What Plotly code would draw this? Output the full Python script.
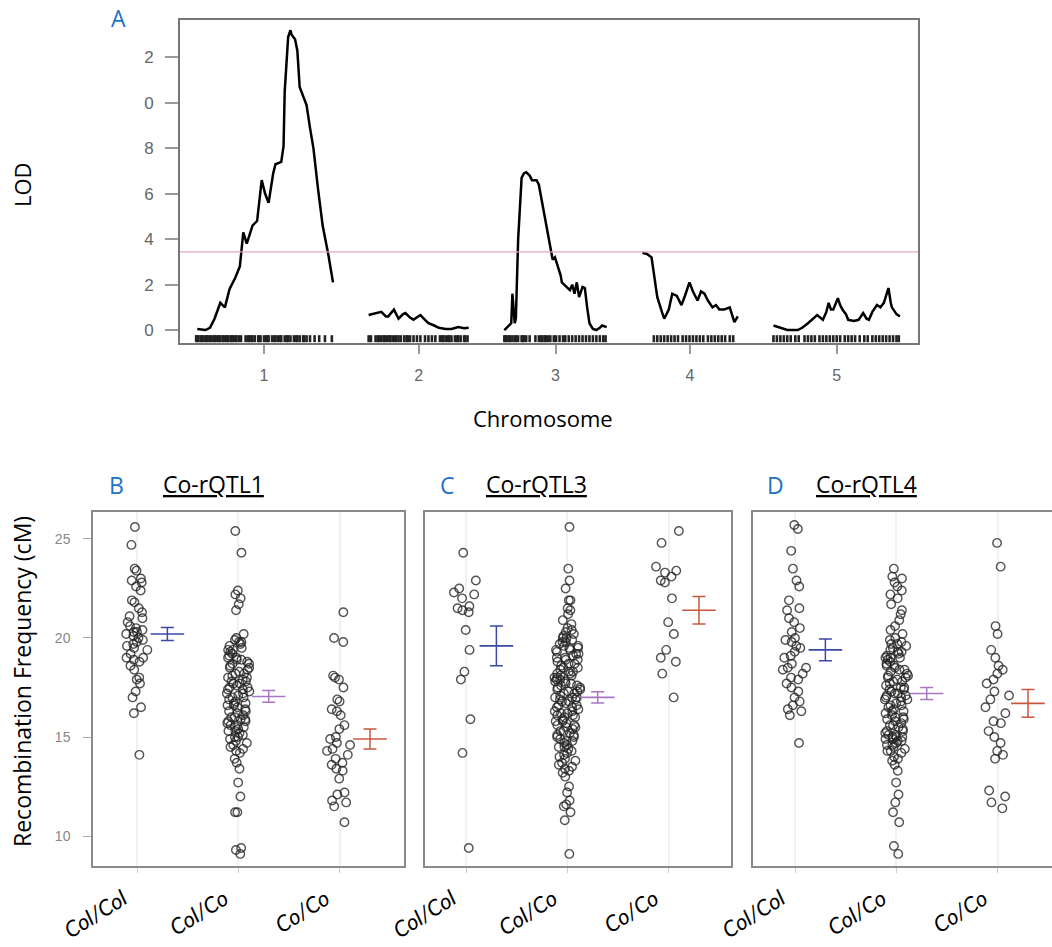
import plotly.graph_objects as go

# ---------------- Panel A data: LOD scan ----------------
chrom_names = ["1", "2", "3", "4", "5"]
chrom_len = [120, 87, 89, 83, 110]   # cM
chrom_gap = 31                        # cM between chromosomes in the plot
lod_threshold = 3.44

chr1_pos = [2, 9, 13, 17, 22, 26, 30, 35, 39, 42, 45, 48, 50, 54, 58, 61, 64, 68, 70, 75, 77, 78, 81, 83, 84, 87, 89, 91, 94, 97, 100, 103, 107, 111, 116, 120]
chr1_lod = [0.05, 0.0, 0.1, 0.5, 1.2, 1.0, 1.8, 2.3, 2.8, 4.3, 3.8, 4.3, 4.6, 4.8, 6.6, 6.0, 5.6, 6.9, 7.3, 7.4, 8.1, 10.5, 12.9, 13.2, 13.0, 12.8, 12.3, 10.7, 10.3, 9.9, 8.9, 8.0, 6.2, 4.6, 3.3, 2.1]

chr2_pos = [0, 6, 11, 15, 17, 22, 26, 30, 32, 36, 39, 43, 45, 49, 52, 57, 61, 67, 72, 78, 83, 87]
chr2_lod = [0.66, 0.75, 0.8, 0.6, 0.6, 0.9, 0.5, 0.7, 0.75, 0.55, 0.45, 0.6, 0.66, 0.45, 0.3, 0.2, 0.1, 0.05, 0.05, 0.13, 0.08, 0.1]

chr3_pos = [0, 4, 6, 7, 9, 10, 12, 15, 17, 19, 22, 24, 28, 30, 33, 37, 39, 42, 44, 46, 49, 50, 54, 57, 59, 61, 63, 65, 68, 70, 72, 74, 77, 80, 83, 85, 89]
chr3_lod = [0.0, 0.2, 0.3, 1.6, 0.3, 0.5, 4.0, 6.7, 6.9, 6.95, 6.8, 6.6, 6.6, 6.4, 5.6, 4.4, 4.0, 3.1, 3.2, 2.9, 2.4, 2.1, 1.9, 1.76, 2.0, 1.6, 2.1, 1.45, 1.9, 1.85, 1.0, 0.3, 0.05, 0.0, 0.1, 0.2, 0.13]

chr4_pos = [0, 4, 8, 10, 13, 17, 19, 23, 26, 30, 34, 37, 41, 44, 48, 51, 54, 57, 61, 64, 67, 71, 76, 80, 83]
chr4_lod = [3.4, 3.35, 3.2, 2.4, 1.45, 0.8, 0.5, 0.9, 1.6, 1.5, 1.1, 1.5, 2.1, 1.7, 1.3, 1.7, 1.6, 1.3, 1.0, 1.1, 0.9, 0.9, 1.0, 0.35, 0.6]

chr5_pos = [0, 6, 12, 21, 25, 30, 34, 38, 43, 46, 48, 50, 52, 56, 58, 60, 63, 65, 70, 74, 78, 81, 83, 86, 90, 93, 96, 98, 100, 102, 103, 107, 110]
chr5_lod = [0.2, 0.1, 0.0, 0.0, 0.1, 0.3, 0.5, 0.66, 0.45, 0.8, 1.2, 0.9, 0.9, 1.4, 1.1, 0.9, 0.7, 0.45, 0.4, 0.45, 0.75, 0.5, 0.45, 0.8, 1.1, 1.0, 1.2, 1.5, 1.85, 1.2, 1.0, 0.7, 0.6]

# genetic marker positions (rug) per chromosome, cM
chr1_markers = [1, 2, 3, 5, 6, 7, 9, 10, 11, 13, 14, 16, 17, 18, 20, 21, 22, 24, 25, 27, 28, 29, 31, 32, 33, 35, 36, 38, 40, 44, 46, 47, 49, 50, 52, 55, 56, 57, 60, 62, 63, 64, 67, 69, 70, 72, 74, 75, 78, 80, 81, 83, 86, 88, 89, 91, 94, 95, 97, 100, 104, 108, 113, 119]
chr2_markers = [0, 2, 6, 8, 9, 11, 13, 14, 16, 18, 19, 21, 23, 24, 26, 28, 31, 33, 34, 36, 39, 42, 45, 49, 52, 55, 58, 62, 64, 65, 67, 69, 70, 72, 75, 77, 78, 80, 83, 84, 86]
chr3_markers = [0, 1, 2, 4, 5, 7, 9, 10, 12, 15, 16, 17, 19, 22, 27, 30, 32, 33, 35, 36, 38, 40, 43, 45, 48, 51, 53, 56, 59, 62, 65, 68, 71, 74, 77, 80, 83, 86, 88]
chr4_markers = [10, 13, 16, 19, 22, 25, 28, 31, 35, 38, 41, 44, 47, 50, 53, 57, 60, 63, 66, 69, 72, 76, 79]
chr5_markers = [0, 3, 6, 9, 12, 15, 19, 22, 27, 30, 33, 36, 40, 43, 46, 49, 52, 55, 58, 62, 65, 68, 71, 75, 79, 82, 86, 89, 92, 95, 98, 101, 104, 107, 109]

lod_tickvals = [0, 2, 4, 6, 8, 10, 12]
lod_ticktext = ["0", "2", "4", "6", "8", "0", "2"]   # as printed (leading digits cut)

# ---------------- Panels B-D data: recombination frequency ----------------
genotypes = ["Col/Col", "Col/Co", "Co/Co"]

B_colcol = [25.6, 24.7, 23.5, 23.4, 23.0, 22.9, 22.8, 22.4, 21.9, 21.8, 21.5, 21.3, 21.1, 20.8, 20.6, 20.5, 20.4, 20.3, 20.3, 20.1, 20.0, 19.9, 19.8, 19.7, 19.5, 19.4, 19.2, 19.0, 19.0, 18.8, 18.6, 18.4, 18.0, 17.9, 17.7, 17.3, 17.0, 16.5, 16.2, 14.1, 21.0, 20.2, 19.6, 18.9, 22.6]
B_colco = [25.4, 24.3, 22.4, 22.2, 22.0, 21.7, 21.4, 20.2, 20.0, 19.9, 19.8, 19.8, 19.7, 19.6, 19.5, 19.4, 19.4, 19.2, 19.1, 19.0, 19.0, 18.9, 18.8, 18.7, 18.7, 18.5, 18.5, 18.4, 18.3, 18.2, 18.2, 18.1, 18.0, 18.0, 17.9, 17.8, 17.7, 17.7, 17.6, 17.5, 17.5, 17.4, 17.3, 17.2, 17.2, 17.1, 17.0, 17.0, 16.9, 16.8, 16.7, 16.7, 16.6, 16.5, 16.4, 16.3, 16.3, 16.2, 16.1, 16.0, 16.0, 15.9, 15.8, 15.8, 15.7, 15.6, 15.5, 15.5, 15.4, 15.3, 15.3, 15.2, 15.1, 15.0, 15.0, 14.9, 14.8, 14.7, 14.6, 14.4, 14.3, 14.2, 13.9, 13.7, 13.4, 12.7, 12.0, 11.2, 11.2, 9.4, 9.1, 9.3, 19.3, 18.6, 17.4, 16.6, 15.9, 15.6, 14.5, 18.9, 17.8]
B_coco = [21.3, 20.0, 19.8, 18.1, 18.0, 17.5, 16.8, 16.4, 16.3, 16.1, 15.4, 15.0, 14.7, 14.6, 14.3, 14.1, 13.9, 13.7, 13.4, 13.3, 12.2, 12.1, 11.8, 11.7, 11.5, 10.7, 17.9, 16.9, 15.6, 14.9, 14.4, 13.6, 12.9]

C_colcol = [24.3, 22.9, 22.5, 22.3, 22.2, 21.6, 21.5, 21.4, 21.3, 20.4, 19.4, 18.3, 17.9, 15.9, 14.2, 9.4, 22.0]
C_colco = [25.6, 23.5, 22.9, 22.5, 21.9, 21.9, 21.5, 21.4, 21.2, 20.9, 20.7, 20.5, 20.4, 20.3, 20.2, 20.1, 20.0, 20.0, 19.9, 19.8, 19.8, 19.7, 19.6, 19.6, 19.5, 19.4, 19.4, 19.3, 19.2, 19.2, 19.1, 19.0, 19.0, 18.9, 18.9, 18.8, 18.7, 18.7, 18.6, 18.5, 18.5, 18.4, 18.3, 18.3, 18.2, 18.1, 18.1, 18.0, 18.0, 17.9, 17.9, 17.8, 17.8, 17.7, 17.7, 17.6, 17.6, 17.5, 17.5, 17.4, 17.3, 17.3, 17.2, 17.2, 17.1, 17.0, 17.0, 16.9, 16.9, 16.8, 16.8, 16.7, 16.6, 16.6, 16.5, 16.5, 16.4, 16.3, 16.3, 16.2, 16.1, 16.1, 16.0, 16.0, 15.9, 15.8, 15.8, 15.7, 15.6, 15.6, 15.5, 15.5, 15.4, 15.3, 15.3, 15.2, 15.1, 15.0, 15.0, 14.9, 14.8, 14.8, 14.7, 14.6, 14.5, 14.5, 14.4, 14.3, 14.2, 14.1, 14.0, 13.9, 13.8, 13.7, 13.6, 13.5, 13.4, 13.3, 13.2, 13.0, 12.5, 12.2, 11.8, 11.6, 11.5, 11.2, 10.8, 9.1, 17.4, 18.2, 16.2, 15.1, 19.5, 17.0]
C_coco = [25.4, 24.8, 23.6, 23.4, 23.1, 22.9, 22.8, 22.0, 20.8, 20.2, 19.4, 19.0, 18.8, 18.2, 17.0, 23.3]

D_colcol = [25.7, 25.5, 24.4, 23.5, 22.9, 22.6, 21.9, 21.5, 21.4, 20.5, 20.0, 19.8, 19.6, 19.5, 19.3, 19.0, 18.7, 18.5, 18.5, 18.4, 18.0, 17.9, 17.7, 17.3, 17.0, 16.8, 16.4, 16.1, 14.7, 20.3, 19.9, 19.1, 18.2, 17.5, 16.6, 16.3, 20.8, 21.0]
D_colco = [23.5, 23.1, 22.8, 22.6, 22.2, 22.0, 21.7, 21.4, 20.9, 20.4, 20.0, 19.9, 19.8, 19.7, 19.6, 19.5, 19.4, 19.3, 19.2, 19.1, 19.0, 19.0, 18.9, 18.8, 18.7, 18.6, 18.5, 18.4, 18.3, 18.2, 18.1, 18.0, 18.0, 17.9, 17.8, 17.7, 17.6, 17.5, 17.4, 17.4, 17.3, 17.2, 17.1, 17.0, 17.0, 16.9, 16.8, 16.7, 16.6, 16.5, 16.4, 16.3, 16.2, 16.1, 16.0, 15.9, 15.8, 15.7, 15.6, 15.5, 15.4, 15.3, 15.2, 15.1, 15.0, 15.0, 14.9, 14.8, 14.7, 14.6, 14.5, 14.4, 14.3, 14.2, 14.0, 13.8, 13.6, 13.3, 12.7, 12.1, 11.7, 11.2, 10.7, 9.5, 9.1, 23.0, 22.4, 21.2, 20.6, 20.2, 19.7, 19.3, 18.6, 18.4, 17.8, 17.5, 17.2, 16.9, 16.6, 16.3, 15.9, 15.6, 15.3, 15.1, 14.9, 14.6, 14.3, 13.9, 19.0, 18.1, 17.1, 16.0, 15.0, 14.8]
D_coco = [24.8, 23.6, 20.6, 20.2, 19.4, 19.0, 18.4, 18.2, 17.9, 17.7, 17.3, 16.9, 16.2, 15.8, 15.7, 15.0, 14.7, 14.3, 13.9, 12.3, 12.0, 11.7, 11.4, 18.6, 17.1, 16.5, 15.3, 14.1]

B_mean = [20.2, 17.05, 14.9]
B_se = [0.33, 0.3, 0.5]
C_mean = [19.6, 17.0, 21.4]
C_se = [1.0, 0.28, 0.7]
D_mean = [19.4, 17.2, 16.7]
D_se = [0.55, 0.3, 0.7]

panel_titles = ["Co-rQTL1", "Co-rQTL3", "Co-rQTL4"]
panel_letters = ["A", "B", "C", "D"]

# ---------------- styles ----------------
LABEL_FONT = "'Open Sans', Lato, sans-serif"
TICKCAT_FONT = "Lato, 'Open Sans', sans-serif"
TICK_FONT = "'Liberation Sans', Arial, sans-serif"
BLUE_LETTER = "#1f72c4"
mean_colors = ["#3a48a6", "#a877c4", "#c9573f"]
FRAME = "#8a8a8a"

fig = go.Figure()

# ---- Panel A ----
chroms = [(chr1_pos, chr1_lod, chr1_markers), (chr2_pos, chr2_lod, chr2_markers),
          (chr3_pos, chr3_lod, chr3_markers), (chr4_pos, chr4_lod, chr4_markers),
          (chr5_pos, chr5_lod, chr5_markers)]
offsets = []
acc = 0
for L in chrom_len:
    offsets.append(acc)
    acc += L + chrom_gap
mids = [o + L / 2 for o, L in zip(offsets, chrom_len)]

for (pos, lod, mk), off in zip(chroms, offsets):
    fig.add_trace(go.Scatter(x=[p + off for p in pos], y=lod, mode="lines",
                             line=dict(color="black", width=2.5), xaxis="x", yaxis="y",
                             showlegend=False, hoverinfo="skip"))
    fig.add_trace(go.Scatter(x=[m + off for m in mk], y=[-0.38] * len(mk), mode="markers",
                             marker=dict(symbol="line-ns", size=5, line=dict(color="#222", width=2.6)),
                             xaxis="x", yaxis="y", showlegend=False, hoverinfo="skip"))

# ---- Panels B, C, D ----
panels = [
    ("x2", "y2", [B_colcol, B_colco, B_coco], B_mean, B_se),
    ("x3", "y3", [C_colcol, C_colco, C_coco], C_mean, C_se),
    ("x4", "y4", [D_colcol, D_colco, D_coco], D_mean, D_se),
]
for xa, ya, groups, means, ses in panels:
    for gi, vals in enumerate(groups):
        fig.add_trace(go.Box(y=vals, x0=gi + 1, xaxis=xa, yaxis=ya, boxpoints="all",
                             jitter=0.85, pointpos=0, width=0.3,
                             fillcolor="rgba(0,0,0,0)", line=dict(width=0, color="rgba(0,0,0,0)"),
                             whiskerwidth=0,
                             marker=dict(symbol="circle-open", size=8.5, color="rgba(35,35,35,0.78)",
                                         line=dict(width=1.4, color="rgba(35,35,35,0.78)")),
                             showlegend=False, hoverinfo="skip"))
    for gi in range(3):
        fig.add_trace(go.Scatter(x=[gi + 1.3], y=[means[gi]], mode="markers", xaxis=xa, yaxis=ya,
                                 marker=dict(symbol="line-ew", size=24,
                                             line=dict(color=mean_colors[gi], width=1.6)),
                                 error_y=dict(type="data", array=[ses[gi]], color=mean_colors[gi],
                                              thickness=1.5, width=6.5),
                                 showlegend=False, hoverinfo="skip"))

W, H = 1052, 947
def px(xp):
    return xp / W
def py(yp):
    return 1 - yp / H

frame_common = dict(showline=True, mirror=True, zeroline=False, automargin=False)

layout = dict(
    width=W, height=H, margin=dict(l=0, r=0, t=0, b=0, autoexpand=False),
    paper_bgcolor="white", plot_bgcolor="white", boxmode="overlay",
    showlegend=False,
    xaxis=dict(domain=[px(180), px(918)], range=[(180 - 195) / 1.15, (918 - 195) / 1.15],
               anchor="y", linecolor="#777", linewidth=2, showgrid=False,
               tickvals=mids, ticktext=chrom_names, ticks="outside", ticklen=9, tickcolor="#999",
               tickwidth=1.5, tickfont=dict(family=TICK_FONT, size=16, color="#666"),
               ticklabelstandoff=8, **frame_common),
    yaxis=dict(domain=[py(343), py(20)], range=[-0.57, 13.65], anchor="x",
               linecolor="#777", linewidth=2, showgrid=False,
               tickvals=lod_tickvals, ticktext=lod_ticktext, ticks="outside", ticklen=13,
               tickcolor="#999", tickwidth=1.5, ticklabelstandoff=8,
               tickfont=dict(family=TICK_FONT, size=17, color="#666"), **frame_common),
)

x_ranges = [(93, 404, 137), (425, 731, 466), (753, 1052, 795)]
for i, (x0p, x1p, c1) in enumerate(x_ranges):
    n = i + 2
    spacing = 101.3
    lo = 1 - (c1 - x0p) / spacing
    hi = 1 + (x1p - c1) / spacing
    layout[f"xaxis{n}"] = dict(domain=[px(x0p), px(x1p)], range=[lo, hi], type="linear",
                               anchor=f"y{n}", linecolor=FRAME, linewidth=1.5,
                               showgrid=True, gridcolor="#f1f1f1", gridwidth=2,
                               tickvals=[1, 2, 3], ticktext=[f"<i>{g}</i>" for g in genotypes],
                               tickangle=-32, ticks="outside", ticklen=5, tickcolor="#ccc",
                               tickfont=dict(family=TICKCAT_FONT, size=22, color="black"),
                               ticklabelstandoff=5, ticklabelshift=-14, **frame_common)
    ydict = dict(domain=[py(866), py(512)], range=[8.49, 26.36], anchor=f"x{n}",
                 linecolor=FRAME, linewidth=1.5, showgrid=False, **frame_common)
    if n == 2:
        ydict.update(tickvals=[10, 15, 20, 25], ticks="outside", ticklen=8, tickcolor="#aaa",
                     ticklabelstandoff=10,
                     tickfont=dict(family=TICK_FONT, size=14, color="#888"))
    else:
        ydict.update(showticklabels=False, ticks="")
    layout[f"yaxis{n}"] = ydict

fig.update_layout(**layout)

# threshold line
fig.add_shape(type="line", xref="x domain", yref="y", x0=0, x1=1, y0=lod_threshold, y1=lod_threshold,
              line=dict(color="#e4aab9", width=1.2))

ann = []
ann.append(dict(text="LOD", x=px(22), y=py(185), textangle=-90,
                font=dict(family=LABEL_FONT, size=22, color="black")))
ann.append(dict(text="Chromosome", x=px(543), y=py(418),
                font=dict(family=LABEL_FONT, size=22, color="black")))
ann.append(dict(text="Recombination Frequency (cM)", x=px(22), y=py(682), textangle=-90,
                font=dict(family=LABEL_FONT, size=23, color="black")))
letter_pos = [(118, 18), (117, 485), (447, 485), (775, 485)]
for letter, (lx, ly) in zip(panel_letters, letter_pos):
    ann.append(dict(text=letter, x=px(lx), y=py(ly),
                    font=dict(family=LABEL_FONT, size=23, color=BLUE_LETTER)))
title_pos = [(213, 484), (536, 484), (866, 484)]
for t, (tx, ty) in zip(panel_titles, title_pos):
    ann.append(dict(text=f"<u>{t}</u>", x=px(tx), y=py(ty),
                    font=dict(family=LABEL_FONT, size=23, color="black")))
for a in ann:
    a.update(xref="paper", yref="paper", showarrow=False, xanchor="center", yanchor="middle")
fig.update_layout(annotations=ann)

fig.write_html("out.html")
